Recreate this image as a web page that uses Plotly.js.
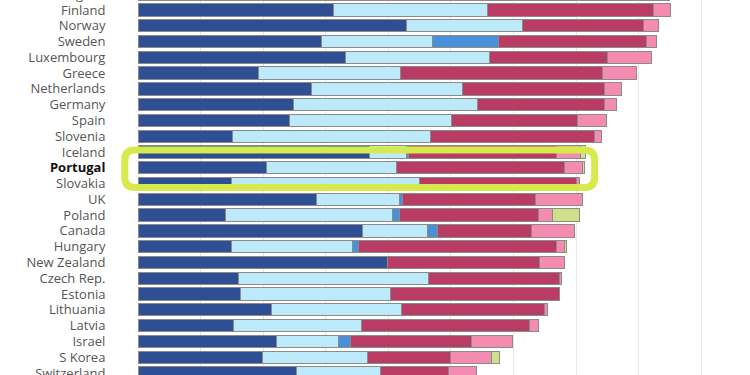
<!DOCTYPE html>
<html>
<head>
<meta charset="utf-8">
<script src="https://cdn.plot.ly/plotly-3.0.1.min.js"></script>
<style>html,body{margin:0;padding:0;background:#fff;}#chart{width:750px;height:375px;}</style>
</head>
<body>
<div id="chart"></div>
<script>
var countries = ["Belgium","Finland","Norway","Sweden","Luxembourg","Greece","Netherlands","Germany","Spain","Slovenia","Iceland","Portugal","Slovakia","UK","Poland","Canada","Hungary","New Zealand","Czech Rep.","Estonia","Lithuania","Latvia","Israel","S Korea","Switzerland"];
var darkBlue  = [31.6,31.2,42.9,29.3,33.2,19.2,27.7,24.9,24.2,15.1,37.0,20.5,14.9,28.5,14.0,35.8,15.0,39.9,16.0,16.4,21.3,15.3,22.2,19.9,25.4];
var lightBlue = [26.2,24.6,18.5,17.7,22.9,22.8,24.2,29.3,25.9,31.7,5.9,20.8,30.1,13.3,26.6,10.4,19.2,0,30.4,24.0,20.8,20.4,9.9,16.8,13.3];
var midBlue   = [0,0,0,10.6,0,0,0,0,0,0,0.3,0,0,0.5,1.2,1.6,1.1,0,0,0,0,0,1.8,0,0];
var crimson   = [22.4,26.5,19.4,23.7,18.9,32.2,22.7,20.3,20.2,26.1,23.6,26.9,25.0,21.2,22.2,15.1,31.5,24.3,21.0,26.9,22.8,26.9,19.4,13.3,10.9];
var pink      = [4.8,2.8,2.3,1.6,7.0,5.5,2.6,1.9,4.5,1.1,3.9,2.8,0.5,7.5,2.3,6.8,1.4,4.0,0.2,0.1,0.6,1.4,6.5,6.5,4.5];
var green     = [0,0,0,0,0,0,0,0,0,0,0.8,0.4,0,0,4.2,0,0.3,0,0,0,0,0,0,1.2,0];
var tickLabels = countries.map(function(c){ return c === "Portugal" ? '<span style="color:#111"><b>Portugal</b></span>' : c; });

var series = [
  {v: darkBlue, c: "#2e4f93"},
  {v: lightBlue, c: "#bdeafa"},
  {v: midBlue, c: "#4a90d9"},
  {v: crimson, c: "#b83c64"},
  {v: pink, c: "#f48cb1"},
  {v: green, c: "#cde08a"}
];
var traces = series.map(function(s){
  return {type:"bar", orientation:"h", y:countries, x:s.v,
    marker:{color:s.c, line:{color:"#8c8a8a", width:1}}, hoverinfo:"x+y"};
});

var n = 375/15.78;
var layout = {
  width:750, height:375,
  margin:{l:137.5, r:0, t:0, b:0},
  paper_bgcolor:"#fff", plot_bgcolor:"#fff",
  barmode:"stack", bargap:0.22, showlegend:false,
  font:{family:"Open Sans, sans-serif", size:13, color:"#555"},
  xaxis:{range:[0,97.8], dtick:10, showgrid:true, gridcolor:"#ebe6dc", gridwidth:1,
    zeroline:false, showticklabels:false, ticks:"", fixedrange:true},
  yaxis:{type:"category", range:[0.366+n, 0.366], tickmode:"array", tickvals:countries, ticktext:tickLabels,
    showgrid:false, zeroline:false, ticks:"outside", ticklen:29, tickcolor:"rgba(0,0,0,0)",
    tickfont:{family:"Open Sans, sans-serif", size:13, color:"#555"}, fixedrange:true},
  annotations:[{text:"Belgium", xref:"paper", yref:"paper", x:(107-137.5)/612.5, y:1+5.8/375,
    xanchor:"right", yanchor:"middle", showarrow:false, font:{family:"Open Sans, sans-serif", size:13, color:"#555"}}],
  shapes:[]
};
(function(){
  var W=612.5, H=375;
  var x0=(124.3-137.5)/W, x1=(594.5-137.5)/W, yt=1-150/H, yb=1-187.5/H;
  var rx=10/W, ry=10/H;
  var p = "M "+(x0+rx)+","+yt+" L "+(x1-rx)+","+yt+" Q "+x1+","+yt+" "+x1+","+(yt-ry)+
          " L "+x1+","+(yb+ry)+" Q "+x1+","+yb+" "+(x1-rx)+","+yb+
          " L "+(x0+rx)+","+yb+" Q "+x0+","+yb+" "+x0+","+(yb+ry)+
          " L "+x0+","+(yt-ry)+" Q "+x0+","+yt+" "+(x0+rx)+","+yt+" Z";
  layout.shapes.push({type:"path", xref:"paper", yref:"paper", path:p, line:{color:"#d6ea4e", width:7}, layer:"above"});
})();
Plotly.newPlot("chart", traces, layout, {displayModeBar:false, staticPlot:true});
</script>
</body>
</html>
